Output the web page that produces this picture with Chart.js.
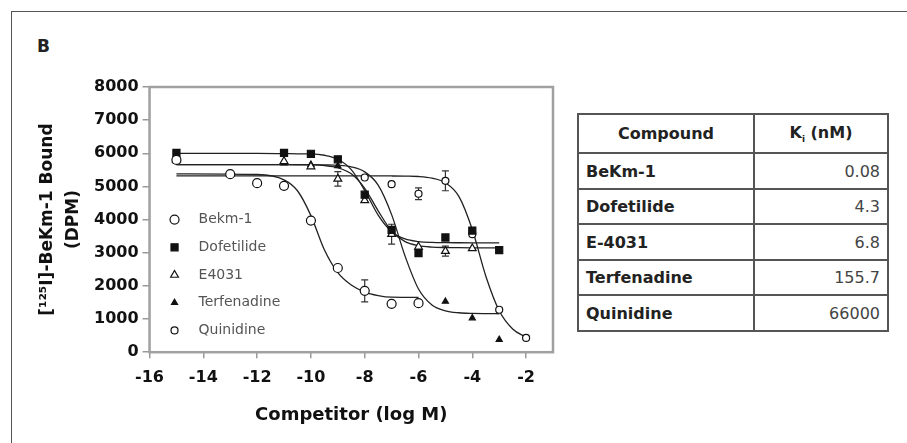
<!DOCTYPE html>
<html>
<head>
<meta charset="utf-8">
<script src="https://cdn.jsdelivr.net/npm/chart.js@4.4.1/dist/chart.umd.min.js"></script>
<style>
  body { margin: 0; background: #fff; font-family: 'DejaVu Sans', sans-serif; }
  #wrap { position: relative; width: 907px; height: 443px; overflow: hidden; }
  #frame { position: absolute; left: 11px; top: 11px; width: 920px; height: 460px; border-left: 1px solid #555; border-top: 1px solid #555; }
  #panel { position: absolute; left: 37px; top: 36px; font-weight: bold; font-size: 17px; color: #222; }
  #box { position: absolute; left: 0; top: 0; width: 570px; height: 443px; }
  table { position: absolute; left: 577px; top: 113px; width: 312px; height: 219px; border-collapse: collapse; }
  th, td { border: 2px solid #555; padding: 0 7px; font-size: 16px; }
  th { font-weight: bold; text-align: center; color: #222; }
  td:first-child { font-weight: bold; color: #222; text-align: left; width: 160px; }
  td:last-child { text-align: right; color: #444; }
</style>
</head>
<body>
<div id="wrap">
  <div id="frame"></div>
  <div id="panel">B</div>
  <div id="box"><canvas id="c"></canvas></div>
  <table id="ki"></table>
</div>
<script>
// table
const compounds = ['BeKm-1', 'Dofetilide', 'E-4031', 'Terfenadine', 'Quinidine'];
const kiValues = ['0.08', '4.3', '6.8', '155.7', '66000'];

// measured points (log M, DPM)
const bekmX = [-15, -13, -12, -11, -10, -9, -8, -7, -6];
const bekmY = [5800, 5370, 5100, 5020, 3970, 2540, 1850, 1460, 1480];
const bekmErr = [0, 0, 0, 0, 0, 0, 330, 0, 0];
const dofX = [-15, -11, -10, -9, -8, -7, -6, -5, -4, -3];
const dofY = [6010, 6010, 5985, 5820, 4750, 3690, 2990, 3460, 3670, 3080];
const dofErr = [0, 0, 0, 0, 0, 0, 0, 0, 0, 0];
const e4031X = [-15, -11, -10, -9, -8, -7, -6, -5, -4];
const e4031Y = [5800, 5760, 5600, 5230, 4580, 3560, 3180, 3050, 3130];
const e4031Err = [0, 0, 0, 220, 0, 300, 0, 150, 0];
const terfX = [-15, -11, -10, -9, -5, -4, -3];
const terfY = [5760, 5700, 5660, 5620, 1530, 1030, 380];
const terfErr = [0, 0, 0, 0, 0, 0, 0];
const quinX = [-15, -8, -7, -6, -5, -4, -3, -2];
const quinY = [5800, 5270, 5070, 4780, 5170, 3560, 1280, 430];
const quinErr = [0, 0, 0, 180, 300, 0, 0, 0];

// fitted curves
const curveX = [-15, -12, -11, -10.5, -10, -9.5, -9, -8.5, -8, -7.5, -7, -6.5, -6, -5.5, -5, -4.5, -4, -3.5, -3, -2.5, -2];
const bekmCurve = [5380, 5360, 5200, 4870, 4120, 3090, 2400, 2025, 1815, 1710, 1660, 1655, 1650, null, null, null, null, null, null, null, null];
const dofCurve = [6000, 5998, 5990, 5985, 5981, 5941, 5822, 5506, 4880, 4134, 3635, 3416, 3338, 3312, 3304, 3301, 3300, 3300, 3300, null, null];
const e4031Curve = [5660, 5659, 5657, 5655, 5650, 5630, 5565, 5380, 4945, 4265, 3655, 3335, 3213, 3170, 3157, 3152, 3150, 3150, 3150, null, null];
const terfCurve = [5660, 5660, 5660, 5659, 5656, 5650, 5638, 5590, 5440, 5040, 4150, 2900, 1906, 1425, 1250, 1190, 1170, 1163, 1160, null, null];
const quinCurve = [5320, 5320, 5320, 5320, 5320, 5320, 5320, 5320, 5319, 5318, 5316, 5311, 5300, 5250, 5110, 4700, 3700, 2300, 1250, 700, 450];

document.getElementById('ki').innerHTML =
  '<tr><th>Compound</th><th>K<sub style="font-size:9px">i</sub> (nM)</th></tr>' +
  compounds.map((c, i) => '<tr><td>' + c + '</td><td>' + kiValues[i] + '</td></tr>').join('');

const pts = (xs, ys) => xs.map((x, i) => ({ x: x, y: ys[i] }));

const series = [
  { label: 'Bekm-1', x: bekmX, y: bekmY, err: bekmErr, curve: bekmCurve, style: 'circle', fill: false, r: 4.5 },
  { label: 'Dofetilide', x: dofX, y: dofY, err: dofErr, curve: dofCurve, style: 'rect', fill: true, r: 5 },
  { label: 'E4031', x: e4031X, y: e4031Y, err: e4031Err, curve: e4031Curve, style: 'triangle', fill: false, r: 4.5 },
  { label: 'Terfenadine', x: terfX, y: terfY, err: terfErr, curve: terfCurve, style: 'triangle', fill: true, r: 3.5 },
  { label: 'Quinidine', x: quinX, y: quinY, err: quinErr, curve: quinCurve, style: 'circle', fill: false, r: 3.5 }
];

const datasets = [];
series.forEach(s => {
  datasets.push({
    label: s.label,
    data: pts(s.x, s.y),
    showLine: false,
    pointStyle: s.style,
    pointRadius: s.r,
    pointBorderWidth: 1.2,
    pointBorderColor: '#111',
    pointBackgroundColor: s.fill ? '#111' : '#fff',
    order: 0
  });
});
series.forEach(s => {
  datasets.push({
    label: s.label + ' fit',
    data: pts(curveX, s.curve),
    showLine: true,
    pointRadius: 0,
    borderColor: '#222',
    borderWidth: 1.3,
    cubicInterpolationMode: 'monotone',
    order: 1
  });
});

function marker(ctx, style, fill, r, x, y) {
  ctx.beginPath();
  if (style === 'circle') {
    ctx.arc(x, y, r, 0, Math.PI * 2);
  } else if (style === 'rect') {
    const h = r * Math.SQRT1_2;
    ctx.rect(x - h, y - h, 2 * h, 2 * h);
  } else {
    ctx.moveTo(x, y - r);
    ctx.lineTo(x + r * 0.866, y + r * 0.5);
    ctx.lineTo(x - r * 0.866, y + r * 0.5);
    ctx.closePath();
  }
  ctx.fillStyle = fill ? '#111' : '#fff';
  ctx.fill();
  ctx.lineWidth = 1.2;
  ctx.strokeStyle = '#111';
  ctx.stroke();
}

const extras = {
  id: 'extras',
  beforeDatasetsDraw(chart) {
    const { ctx, chartArea: a, scales: { x, y } } = chart;
    ctx.save();
    ctx.strokeStyle = '#a0a0a0';
    ctx.lineWidth = 2.5;
    ctx.strokeRect(a.left, a.top, a.right - a.left, a.bottom - a.top);
    // error bars
    ctx.strokeStyle = '#333';
    ctx.lineWidth = 1.2;
    series.forEach(s => {
      s.err.forEach((e, i) => {
        if (!e) return;
        const px = x.getPixelForValue(s.x[i]);
        const top = y.getPixelForValue(s.y[i] + e);
        const bot = y.getPixelForValue(s.y[i] - e);
        ctx.beginPath();
        ctx.moveTo(px, top); ctx.lineTo(px, bot);
        ctx.moveTo(px - 3.5, top); ctx.lineTo(px + 3.5, top);
        ctx.moveTo(px - 3.5, bot); ctx.lineTo(px + 3.5, bot);
        ctx.stroke();
      });
    });
    ctx.restore();
  },
  afterDraw(chart) {
    const { ctx, chartArea: a, scales: { y } } = chart;
    ctx.save();
    ctx.font = '14px "DejaVu Sans"';
    ctx.textBaseline = 'middle';
    const y0 = y.getPixelForValue(4000);
    series.forEach((s, i) => {
      const yy = y0 + i * 27.7;
      marker(ctx, s.style, s.fill, s.r, a.left + 25, yy);
      ctx.fillStyle = '#555';
      ctx.fillText(s.label, a.left + 49, yy);
    });
    ctx.restore();
  }
};

new Chart(document.getElementById('c'), {
  type: 'scatter',
  data: { datasets: datasets },
  options: {
    responsive: true,
    maintainAspectRatio: false,
    animation: false,
    layout: { padding: { left: 31, top: 87, right: 17, bottom: 13 } },
    plugins: { legend: { display: false }, tooltip: { enabled: false } },
    scales: {
      x: {
        type: 'linear',
        min: -16,
        max: -1,
        afterBuildTicks: sc => { sc.ticks = sc.ticks.filter(t => t.value % 2 === 0); },
        ticks: { stepSize: 1, color: '#111', font: { family: 'DejaVu Sans', size: 16, weight: 'bold' }, padding: 10 },
        grid: { drawOnChartArea: false, tickLength: 6, color: '#999', lineWidth: 1.5 },
        border: { display: false },
        title: { display: true, text: 'Competitor (log M)', color: '#111', font: { family: 'DejaVu Sans', size: 18, weight: 'bold' }, padding: { top: 7 } }
      },
      y: {
        min: 0,
        max: 8000,
        ticks: { stepSize: 1000, color: '#111', font: { family: 'DejaVu Sans', size: 16, weight: 'bold' }, padding: 4, callback: v => String(v) },
        grid: { drawOnChartArea: false, tickLength: 7, color: '#999', lineWidth: 1.5 },
        border: { display: false },
        title: { display: true, text: ['[¹²⁵I]-BeKm-1 Bound', '(DPM)'], color: '#111', font: { family: 'DejaVu Sans', size: 17, weight: 'bold', lineHeight: 1.5 }, padding: { bottom: 4 } }
      }
    }
  },
  plugins: [extras]
});
</script>
</body>
</html>
